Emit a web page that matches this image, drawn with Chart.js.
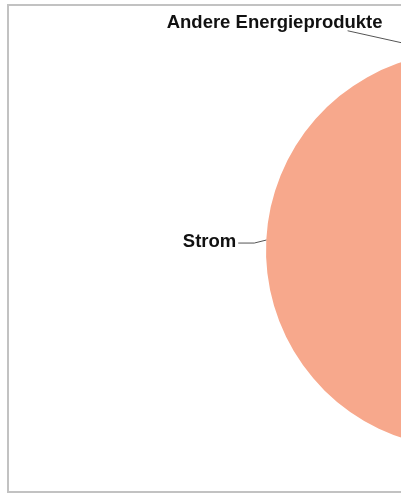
<!DOCTYPE html>
<html>
<head>
<meta charset="utf-8">
<script src="https://cdn.jsdelivr.net/npm/chart.js@4"></script>
<style>
  html, body { margin: 0; padding: 0; background: #fff; overflow: hidden; }
  #wrap { position: relative; width: 928px; height: 493px; }
  #frame { position: absolute; left: 7px; top: 4px; width: 940px; height: 489px; border: 2px solid #c2c2c2; box-sizing: border-box; }
  canvas { position: absolute; left: 0; top: 0; }
</style>
</head>
<body>
<div id="wrap">
  <div id="frame"></div>
  <canvas id="chart" width="928" height="493"></canvas>
</div>
<script>
// slices run clockwise from 12 o'clock; only Strom and Andere Energieprodukte are visible
const categories = ['Erdgas', 'Heizöl', 'Fernwärme', 'Strom', 'Andere Energieprodukte'];
const shares = [30.5, 15.2, 8.7, 42.8, 2.8];

const SLICE_COLORS = ['#f7a88c', '#f7a88c', '#f7a88c', '#f7a88c', '#f7a88c'];

// label placement relative to the slice's edge point (style only)
const LABEL_STYLE = {
  'Strom': { align: 'right', tx: -30, ty: 6.5, leader: [[-12, 3], [-28, 3]] },
  'Andere Energieprodukte': { align: 'center', tx: -172, ty: -25, leader: [[-99, -22]] },
};

const sliceLabels = {
  id: 'sliceLabels',
  afterDraw(chart) {
    const ctx = chart.ctx;
    const meta = chart.getDatasetMeta(0);
    ctx.save();
    ctx.font = 'bold 18.5px "Liberation Sans", Arial, sans-serif';
    ctx.fillStyle = '#111';
    ctx.strokeStyle = '#555';
    ctx.lineWidth = 1;
    meta.data.forEach((arc, i) => {
      const spec = LABEL_STYLE[categories[i]];
      if (!spec) return;
      const p = arc.getProps(['x', 'y', 'startAngle', 'endAngle', 'outerRadius'], true);
      const mid = (p.startAngle + p.endAngle) / 2;
      const px = p.x + Math.cos(mid) * p.outerRadius;
      const py = p.y + Math.sin(mid) * p.outerRadius;
      ctx.beginPath();
      ctx.moveTo(px, py);
      spec.leader.forEach(([dx, dy]) => ctx.lineTo(px + dx, py + dy));
      ctx.stroke();
      ctx.textAlign = spec.align;
      ctx.textBaseline = 'alphabetic';
      ctx.fillText(categories[i], px + spec.tx, py + spec.ty);
    });
    ctx.restore();
  },
};

new Chart(document.getElementById('chart'), {
  type: 'pie',
  data: {
    labels: categories,
    datasets: [{ data: shares, backgroundColor: SLICE_COLORS, borderWidth: 0 }],
  },
  options: {
    responsive: false,
    animation: false,
    layout: { padding: { top: 52, bottom: 45, left: 0, right: 0 } },
    plugins: { legend: { display: false }, tooltip: { enabled: false } },
  },
  plugins: [sliceLabels],
});
</script>
</body>
</html>
